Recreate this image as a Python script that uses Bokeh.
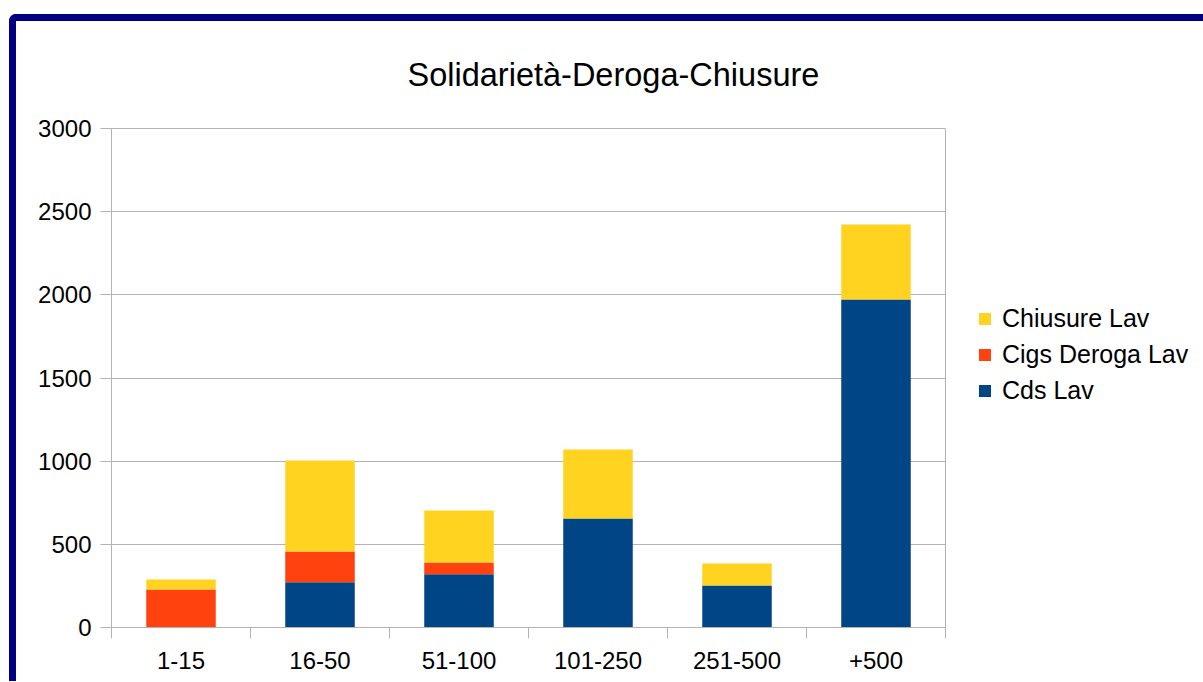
from bokeh.plotting import figure
from bokeh.models import (Range1d, FixedTicker, Legend, LegendItem, Title,
                          ColumnDataSource)
from bokeh.embed import file_html
from bokeh.resources import INLINE

categories = ["1-15", "16-50", "51-100", "101-250", "251-500", "+500"]
cds_lav = [0, 272, 320, 655, 253, 1972]
cigs_deroga_lav = [228, 185, 71, 0, 0, 0]
chiusure_lav = [61, 547, 312, 415, 132, 451]
series_names = ["Cds Lav", "Cigs Deroga Lav", "Chiusure Lav"]
colors = ["#004586", "#FF420E", "#FFD320"]
y_ticks = [0, 500, 1000, 1500, 2000, 2500, 3000]
title_text = "Solidarietà-Deroga-Chiusure"

FONT = "Liberation Sans"
GRID = "#b3b3b3"

xs = [i + 0.5 for i in range(len(categories))]
src = ColumnDataSource(dict(x=xs, cds=cds_lav, cigs=cigs_deroga_lav, chi=chiusure_lav))

p = figure(frame_width=834, frame_height=499, output_backend="svg", toolbar_location=None,
           x_range=Range1d(0, len(categories)), y_range=Range1d(0, 3000),
           min_border_left=95, min_border_right=250, min_border_top=107,
           min_border_bottom=54, title=None)
p.background_fill_color = "white"
p.border_fill_color = "white"
p.outline_line_color = GRID
p.outline_line_width = 1
p.styles = {"border-left": "7px solid #000080", "border-top": "7px solid #000080",
            "border-top-left-radius": "7px", "margin-top": "14px", "margin-left": "9px"}

renderers = p.vbar_stack(["cds", "cigs", "chi"], x="x", width=0.5, source=src,
                         color=colors, line_color=None)

# axes
xa = p.xaxis[0]
xa.ticker = FixedTicker(ticks=xs, minor_ticks=list(range(len(categories) + 1)))
xa.major_label_overrides = {x: c for x, c in zip(xs, categories)}
xa.major_tick_line_color = None
xa.major_tick_out = 0
xa.major_tick_in = 0
xa.minor_tick_line_color = GRID
xa.minor_tick_out = 11
xa.minor_tick_in = 0
xa.axis_line_color = GRID
xa.major_label_text_font = FONT
xa.major_label_text_font_size = "24px"
xa.major_label_text_color = "black"
xa.major_label_standoff = 13

ya = p.yaxis[0]
ya.ticker = FixedTicker(ticks=y_ticks)
ya.major_tick_line_color = GRID
ya.major_tick_out = 11
ya.major_tick_in = 0
ya.minor_tick_line_color = None
ya.axis_line_color = GRID
ya.major_label_text_font = FONT
ya.major_label_text_font_size = "24px"
ya.major_label_text_color = "black"
ya.major_label_standoff = 9

p.xgrid.grid_line_color = None
p.ygrid.grid_line_color = GRID
p.ygrid.ticker = FixedTicker(ticks=y_ticks)

legend = Legend(items=[LegendItem(label=series_names[2], renderers=[renderers[2]]),
                       LegendItem(label=series_names[1], renderers=[renderers[1]]),
                       LegendItem(label=series_names[0], renderers=[renderers[0]])],
                location=(32, 222), orientation="vertical")
legend.glyph_width = 15
legend.glyph_height = 15
legend.label_text_font = FONT
legend.label_text_font_size = "25px"
legend.label_text_color = "black"
legend.label_standoff = 10
legend.spacing = 7
legend.padding = 0
legend.margin = 0
legend.border_line_color = None
legend.background_fill_alpha = 0
p.add_layout(legend, "right")

title = Title(text=title_text, text_font=FONT, text_font_size="32.5px",
              text_color="black", text_font_style="normal", align="left",
              offset=296, vertical_align="top", standoff=68)
p.add_layout(title, "above")

open("out.html", "w").write(file_html(p, INLINE))
